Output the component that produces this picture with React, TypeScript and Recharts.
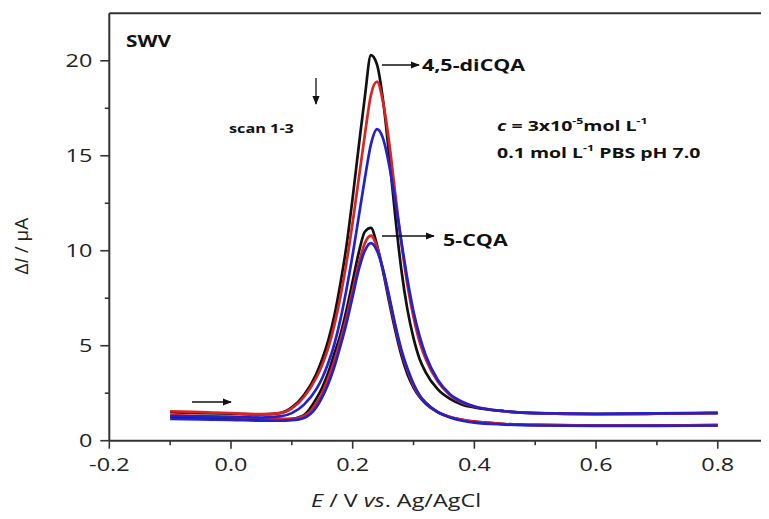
import { LineChart, Line, XAxis, YAxis, ReferenceLine } from "recharts";

// potential E / V vs. Ag/AgCl
const potential = [
  -0.1, -0.05, 0, 0.05, 0.08, 0.1, 0.12, 0.14, 0.15, 0.16, 0.17, 0.18, 0.19, 0.2, 0.21, 0.22, 0.23, 0.24,
  0.25, 0.26, 0.27, 0.28, 0.29, 0.3, 0.31, 0.32, 0.34, 0.36, 0.38, 0.4, 0.45, 0.5, 0.6, 0.7, 0.8,
];

// 4,5-diCQA, scans 1-3
const diScan1 = [
  1.5, 1.45, 1.42, 1.38, 1.45, 1.75, 2.4, 3.5, 4.3, 5.3, 6.6, 8.3, 10.3, 12.8, 15.5, 18.1, 20.3, 19.8,
  17.9, 15.0, 11.8, 9.0, 6.9, 5.4, 4.3, 3.6, 2.7, 2.2, 1.9, 1.75, 1.55, 1.45, 1.4, 1.42, 1.45,
];
const diScan2 = [
  1.55, 1.5, 1.45, 1.4, 1.45, 1.7, 2.3, 3.3, 4.0, 4.9, 6.1, 7.6, 9.4, 11.5, 13.8, 16.1, 18.2, 18.9,
  17.8, 15.7, 13.0, 10.4, 8.2, 6.5, 5.2, 4.3, 3.1, 2.4, 2.0, 1.8, 1.55, 1.45, 1.4, 1.42, 1.45,
];
const diScan3 = [
  1.3, 1.28, 1.25, 1.22, 1.28, 1.45, 1.9, 2.7, 3.3, 4.1, 5.1, 6.4, 8.0, 9.8, 11.8, 13.8, 15.6, 16.4,
  15.9, 14.5, 12.6, 10.5, 8.5, 6.8, 5.5, 4.5, 3.2, 2.45, 2.05, 1.8, 1.55, 1.45, 1.42, 1.44, 1.47,
];

// 5-CQA, scans 1-3
const cqaScan1 = [
  1.25, 1.22, 1.18, 1.12, 1.1, 1.15, 1.35, 2.2, 2.8, 3.6, 4.6, 5.6, 6.9, 8.4, 9.9, 11.0, 11.2, 10.3,
  8.9, 7.3, 5.8, 4.5, 3.5, 2.8, 2.3, 1.95, 1.5, 1.25, 1.1, 1.0, 0.88, 0.83, 0.8, 0.8, 0.82,
];
const cqaScan2 = [
  1.35, 1.3, 1.25, 1.18, 1.15, 1.15, 1.3, 1.95, 2.5, 3.3, 4.2, 5.3, 6.5, 7.9, 9.3, 10.4, 10.8, 10.2,
  9.0, 7.5, 6.0, 4.7, 3.7, 2.9, 2.35, 2.0, 1.5, 1.25, 1.1, 1.0, 0.88, 0.83, 0.8, 0.8, 0.82,
];
const cqaScan3 = [
  1.15, 1.12, 1.1, 1.05, 1.05, 1.08, 1.2, 1.75, 2.3, 3.0, 3.9, 5.0, 6.2, 7.6, 9.0, 10.0, 10.4, 10.0,
  9.0, 7.6, 6.1, 4.8, 3.8, 3.0, 2.4, 2.0, 1.5, 1.22, 1.05, 0.95, 0.85, 0.8, 0.78, 0.78, 0.8,
];

const xTicks = [-0.2, -0.1, 0, 0.1, 0.2, 0.3, 0.4, 0.5, 0.6, 0.7, 0.8];
const yTicks = [0, 2.5, 5, 7.5, 10, 12.5, 15, 17.5, 20];

const rows = potential.map((e, i) => ({
  e,
  diScan1: diScan1[i],
  diScan2: diScan2[i],
  diScan3: diScan3[i],
  cqaScan1: cqaScan1[i],
  cqaScan2: cqaScan2[i],
  cqaScan3: cqaScan3[i],
}));

const FONT = "'Open Sans', sans-serif";
const AXIS = "#333";
const BLACK = "#111";
const RED = "#dd2222";
const BLUE = "#2222cc";

function XTick({ x, y, payload }: any) {
  const v = payload.value as number;
  const major = Math.abs(Math.round(v * 10)) % 2 === 0;
  return (
    <g>
      <line x1={x} x2={x} y1={y} y2={y + (major ? 8 : 4.5)} stroke={AXIS} strokeWidth={1.6} />
      {major && (
        <text
          transform={`translate(${x},${y + 30}) scale(1.3,1)`}
          textAnchor="middle"
          fontSize={18}
          fontFamily={FONT}
          fill="#222"
        >
          {v.toFixed(1)}
        </text>
      )}
    </g>
  );
}

function YTick({ x, y, payload }: any) {
  const v = payload.value as number;
  const major = v % 5 === 0;
  return (
    <g>
      <line x1={x} x2={x - (major ? 9 : 4.5)} y1={y} y2={y} stroke={AXIS} strokeWidth={1.6} />
      {major && (
        <text
          transform={`translate(${x - 17},${y + 6.5}) scale(1.3,1)`}
          textAnchor="end"
          fontSize={18}
          fontFamily={FONT}
          fill="#222"
        >
          {v}
        </text>
      )}
    </g>
  );
}

function Stretched({ x, y, size, children, bold = true }: any) {
  return (
    <text
      transform={`translate(${x},${y}) scale(1.3,1)`}
      fontSize={size}
      fontFamily={FONT}
      fontWeight={bold ? 700 : 400}
      fill="#111"
    >
      {children}
    </text>
  );
}

function Notes() {
  return (
    <svg
      width={769}
      height={519}
      style={{ position: "absolute", left: 0, top: 0, pointerEvents: "none" }}
    >
      <defs>
        <marker id="head" viewBox="0 0 10 10" refX="9" refY="5" markerWidth="7" markerHeight="7" orient="auto">
          <path d="M0,1 L10,5 L0,9 z" fill="#111" />
        </marker>
      </defs>
      <Stretched x={126} y={47} size={16}>SWV</Stretched>
      <Stretched x={229} y={133} size={12.5}>scan 1-3</Stretched>
      <line x1={316} y1={78} x2={316} y2={104} stroke="#111" strokeWidth={1.3} markerEnd="url(#head)" />
      <line x1={382} y1={65} x2={419} y2={65} stroke="#111" strokeWidth={1.3} markerEnd="url(#head)" />
      <Stretched x={422} y={71} size={16.5}>4,5-diCQA</Stretched>
      <line x1={382} y1={236} x2={434} y2={236} stroke="#111" strokeWidth={1.3} markerEnd="url(#head)" />
      <Stretched x={443} y={246} size={16.5}>5-CQA</Stretched>
      <line x1={192} y1={402} x2={231} y2={402} stroke="#111" strokeWidth={1.3} markerEnd="url(#head)" />
      <Stretched x={497} y={131} size={15}>
        <tspan fontStyle="italic">c</tspan> = 3x10
        <tspan fontSize={9.5} dy={-7}>-5</tspan>
        <tspan dy={7}>mol L</tspan>
        <tspan fontSize={9.5} dy={-7}>-1</tspan>
      </Stretched>
      <Stretched x={497} y={158} size={15}>
        0.1 mol L
        <tspan fontSize={9.5} dy={-7}>-1</tspan>
        <tspan dy={7}>{"  "}PBS pH 7.0</tspan>
      </Stretched>
      <text
        transform="translate(28,246) rotate(-90)"
        textAnchor="middle"
        fontSize={19}
        fontFamily={FONT}
        fill="#222"
      >
        Δ<tspan fontStyle="italic">I</tspan> / μA
      </text>
      <text
        transform="translate(396,507) scale(1.3,1)"
        textAnchor="middle"
        fontSize={18}
        fontFamily={FONT}
        fill="#222"
      >
        <tspan fontStyle="italic">E</tspan> / V <tspan fontStyle="italic">vs</tspan>. Ag/AgCl
      </text>
    </svg>
  );
}

export default function App() {
  return (
    <div
      style={{
        margin: -8,
        width: 769,
        height: 519,
        overflow: "hidden",
        position: "relative",
        background: "#fff",
      }}
    >
      <LineChart
        width={790}
        height={519}
        data={rows}
        margin={{ top: 13.3, right: 11.4, left: 0, bottom: 38.3 }}
      >
        <XAxis
          dataKey="e"
          type="number"
          domain={[-0.2, 0.9]}
          ticks={xTicks}
          interval={0}
          height={40}
          tickSize={0}
          tickMargin={0}
          tickLine={false}
          tick={<XTick />}
          axisLine={{ stroke: AXIS, strokeWidth: 2 }}
          allowDataOverflow
        />
        <YAxis
          type="number"
          domain={[0, 22.5]}
          ticks={yTicks}
          interval={0}
          width={109.3}
          tickSize={0}
          tickMargin={0}
          tickLine={false}
          tick={<YTick />}
          axisLine={{ stroke: AXIS, strokeWidth: 2 }}
          allowDataOverflow
        />
        <ReferenceLine y={22.5} stroke={AXIS} strokeWidth={2} />
        <Line dataKey="cqaScan1" type="monotone" stroke={BLACK} strokeWidth={2.7} dot={false} isAnimationActive={false} />
        <Line dataKey="diScan1" type="monotone" stroke={BLACK} strokeWidth={2.7} dot={false} isAnimationActive={false} />
        <Line dataKey="cqaScan2" type="monotone" stroke={RED} strokeWidth={2.7} dot={false} isAnimationActive={false} />
        <Line dataKey="diScan2" type="monotone" stroke={RED} strokeWidth={2.7} dot={false} isAnimationActive={false} />
        <Line dataKey="cqaScan3" type="monotone" stroke={BLUE} strokeWidth={2.7} dot={false} isAnimationActive={false} />
        <Line dataKey="diScan3" type="monotone" stroke={BLUE} strokeWidth={2.7} dot={false} isAnimationActive={false} />
      </LineChart>
      <Notes />
    </div>
  );
}
